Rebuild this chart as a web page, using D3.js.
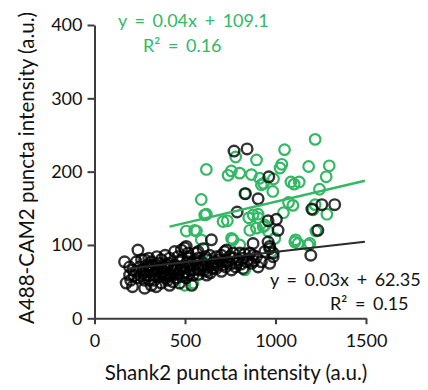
<html>
  <head>
    <style>
      body { margin: 0; background: #fff; }
      text { font-family: Lato, "Open Sans", sans-serif; fill: #111; }
      .tick-text { font-size: 18px; }
      .axis-title { font-size: 20.5px; }
      .eq { font-size: 18px; word-spacing: 3px; }
    </style>
  </head>
  <body>
    <div id="chart"></div>
    <script src="https://d3js.org/d3.v7.min.js"></script>
    <script>
      // values
      var xTicks = [0, 500, 1000, 1500];
      var yTicks = [0, 100, 200, 300, 400];

      var greenPts = [
        [618,203],[738,195],[756,201],[802,198],[780,220],[895,216],[867,196],[913,191],[922,182],
        [590,162],[618,142],[876,141],[904,142],[830,170],[1219,244],[1050,230],[1035,210],[1025,205],
        [1183,207],[1297,208],[1280,193],[1085,186],[1103,183],[1131,186],[989,190],[985,173],[934,184],
        [1243,176],[1072,158],[1044,144],[1284,142],[1219,155],[734,133],[852,137],[904,137],[895,123],
        [858,120],[757,109],[802,100],[941,127],[959,119],[996,109],[978,91],[830,66],[1111,107],
        [1180,100],[1223,119],[1208,148],[1096,154],[1107,104],[1125,102],[1190,102],[498,45],[544,48],
        [553,120],[590,107],[646,80],[710,132],[609,141],[507,119],[563,119],[765,107],[932,125]
      ];

      var blackPts = [
        [771,228],[843,231],[834,170],[904,163],[788,145],[963,193],[1201,149],[1256,155],[1327,155],
        [959,133],[1005,135],[1014,120],[876,102],[959,104],[968,98],[987,89],[1234,120],[1195,86],
        [240,93],[646,107],[507,98],[572,91],[729,93],[765,89],[784,75],[821,82],[876,86],[904,70],
        [968,95],[968,75],[987,84],[710,73],[673,68],[618,80],[563,75],[526,66],[470,77],[415,61],
        [360,57],[304,52],[194,59],[166,77],[175,48],[212,66],[267,61],[341,43],[415,45],[295,73],
        [341,73],[397,73],[461,84],[516,89],[563,89],[600,95],[618,64],[673,84],[701,86],[729,77],
        [802,89],[840,77],[858,89],[895,84],[489,70],[452,66],[433,50],[369,48],[314,45],[277,52],
        [240,55],[194,70],[304,70],[369,68],[433,66],[489,57],[544,59],[581,66],[646,73],[286,59],
        [332,59],[387,59],[231,64],[267,66],[323,66],[378,64],[397,55],[452,55],[507,55],[231,77],
        [277,80],[314,77],[369,80],[415,82],[443,91],[480,93],[526,82],[572,82],[636,86],[600,73],
        [747,84],[793,80],[821,68],[757,66],[701,64],[867,75],[922,77],[941,91],[498,96],[719,91],
        [304,63],[350,68],[426,71],[515,77],[570,68],[620,59],[658,77],[470,48],[404,52],[277,41],
        [210,43],[504,63],[537,45],
        [250,70],[258,58],[285,66],[300,58],[318,72],[330,52],[345,64],[355,75],[372,58],[385,70],
        [395,62],[408,75],[420,58],[438,62],[448,72],[460,60],[475,66],[485,80],[495,62],[510,70],
        [520,60],[532,74],[548,66],[555,80],[575,60],[590,72],[605,66],[612,84],[630,70],[640,62],
        [655,68],[668,76],[680,72],[690,80],[705,78],[725,70],[738,78],[750,74],[770,82],[780,70],
        [810,74],[830,88],[850,80],[880,78],[300,82],[260,80],[220,58],[200,52],[345,84],[390,86]
      ];

      // trend lines as drawn: [slope, intercept], x range
      var greenFit = [0.058, 101];
      var greenFitRange = [415, 1494];
      var blackFit = [0.028, 62.5];
      var blackFitRange = [178, 1494];

      var greenEq = ["y = 0.04x + 109.1", "R\u00b2 = 0.16"];
      var blackEq = ["y = 0.03x + 62.35", "R\u00b2 = 0.15"];

      var width = 428, height = 390;
      var green = "#33b864";
      var dark = "#000";
      var axisCol = "#3c3c3c";

      var svg = d3.select("#chart").append("svg")
        .attr("width", width)
        .attr("height", height);

      var x = d3.scaleLinear().domain([0, 1500]).range([94.5, 366]);
      var y = d3.scaleLinear().domain([0, 400]).range([318.3, 25]);

      // points
      svg.append("g").selectAll("circle")
        .data(greenPts).enter().append("circle")
        .attr("cx", d => x(d[0]))
        .attr("cy", d => y(d[1]))
        .attr("r", 5.3)
        .attr("fill", "none")
        .attr("stroke", green)
        .attr("stroke-width", 2.2);

      svg.append("g").selectAll("circle")
        .data(blackPts).enter().append("circle")
        .attr("cx", d => x(d[0]))
        .attr("cy", d => y(d[1]))
        .attr("r", 5.3)
        .attr("fill", "none")
        .attr("stroke", dark)
        .attr("stroke-opacity", 0.8)
        .attr("stroke-width", 2.4);

      // trend lines
      var line = d3.line().x(d => x(d[0])).y(d => y(d[1]));
      function fitPts(f, r) { return r.map(v => [v, f[0] * v + f[1]]); }

      svg.append("path")
        .attr("d", line(fitPts(greenFit, greenFitRange)))
        .attr("stroke", green).attr("stroke-width", 2.5).attr("fill", "none");
      svg.append("path")
        .attr("d", line(fitPts(blackFit, blackFitRange)))
        .attr("stroke", "#2a2a2a").attr("stroke-width", 2).attr("fill", "none");

      // axes
      var xAxis = svg.append("g")
        .attr("transform", "translate(0," + y(0) + ")")
        .call(d3.axisBottom(x).tickValues(xTicks).tickFormat(d3.format("d"))
          .tickSize(6).tickSizeOuter(0).tickPadding(10));
      var yAxis = svg.append("g")
        .attr("transform", "translate(" + x(0) + ",0)")
        .call(d3.axisLeft(y).tickValues(yTicks).tickFormat(d3.format("d"))
          .tickSize(7).tickSizeOuter(0).tickPadding(5));

      [xAxis, yAxis].forEach(function(a) {
        a.select(".domain").attr("stroke", axisCol).attr("stroke-width", 2);
        a.selectAll(".tick line").attr("stroke", axisCol).attr("stroke-width", 2);
        a.selectAll(".tick text").attr("class", "tick-text").attr("fill", "#111");
      });

      // axis titles
      svg.append("text")
        .attr("class", "axis-title")
        .attr("x", 236).attr("y", 380)
        .attr("text-anchor", "middle")
        .text("Shank2 puncta intensity (a.u.)");

      svg.append("text")
        .attr("class", "axis-title")
        .attr("transform", "translate(34,168) rotate(-90)")
        .attr("text-anchor", "middle")
        .text("A488-CAM2 puncta intensity (a.u.)");

      // equations
      svg.append("text").attr("class", "eq")
        .attr("x", 118).attr("y", 27)
        .style("fill", green)
        .text(greenEq[0]);
      svg.append("text").attr("class", "eq")
        .attr("x", 143).attr("y", 52)
        .style("fill", green)
        .text(greenEq[1]);

      svg.append("text").attr("class", "eq")
        .attr("x", 270).attr("y", 286)
        .text(blackEq[0]);
      svg.append("text").attr("class", "eq")
        .attr("x", 330).attr("y", 310)
        .text(blackEq[1]);
    </script>
  </body>
</html>
